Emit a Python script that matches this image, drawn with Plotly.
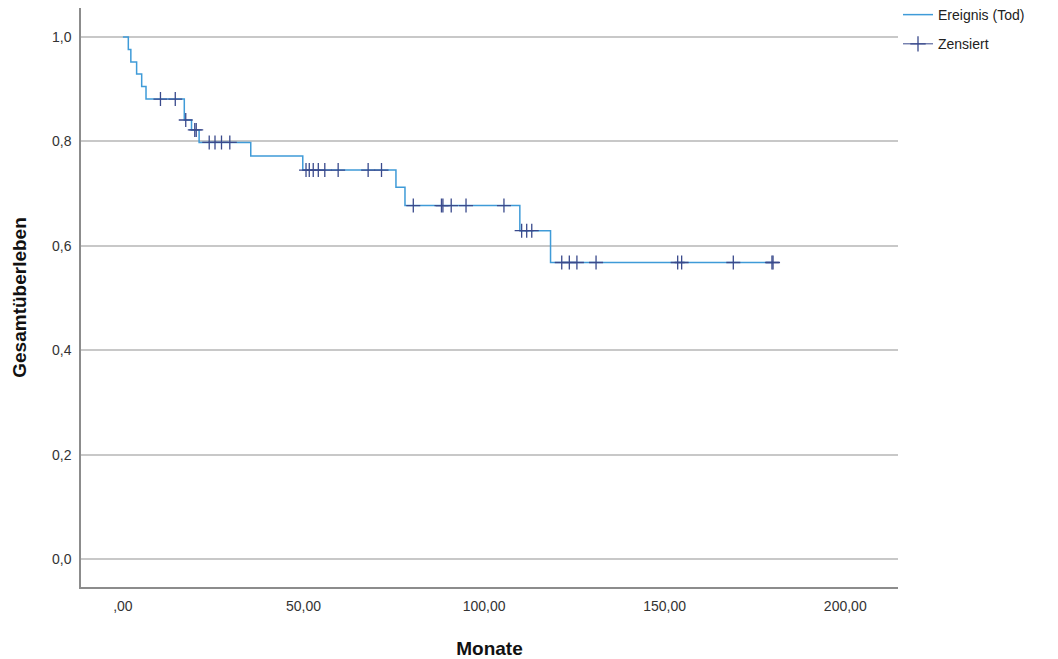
import plotly.graph_objects as go

# Kaplan-Meier steps (months, survival after the event)
event_times = [1.5, 2.2, 3.8, 5.2, 6.4, 17.0, 19.0, 21.1, 35.4, 49.8, 75.6, 78.1, 109.9, 118.4]
event_surv = [0.976, 0.952, 0.929, 0.905, 0.881, 0.841, 0.822, 0.798, 0.772, 0.745, 0.712, 0.677, 0.629, 0.568]

# Censored observations (months, survival level at that time)
censor_times = [10.4, 14.5, 17.4, 19.9, 20.3, 23.9, 25.5, 27.3, 29.6,
                50.7, 51.6, 52.7, 54.1, 55.9, 59.6, 67.9, 71.6,
                80.4, 88.2, 88.6, 90.9, 95.0, 105.5,
                110.4, 111.8, 113.2,
                121.5, 123.6, 125.7, 131.0, 153.6, 154.7, 169.0, 179.7, 180.0]
censor_surv = [0.881, 0.881, 0.841, 0.822, 0.822, 0.798, 0.798, 0.798, 0.798,
               0.745, 0.745, 0.745, 0.745, 0.745, 0.745, 0.745, 0.745,
               0.677, 0.677, 0.677, 0.677, 0.677, 0.677,
               0.629, 0.629, 0.629,
               0.568, 0.568, 0.568, 0.568, 0.568, 0.568, 0.568, 0.568, 0.568]

x_tickvals = [0, 50, 100, 150, 200]
x_ticktext = [",00", "50,00", "100,00", "150,00", "200,00"]
y_tickvals = [0.0, 0.2, 0.4, 0.6, 0.8, 1.0]
y_ticktext = ["0,0", "0,2", "0,4", "0,6", "0,8", "1,0"]

LINE_COLOR = "#3f9bd8"
CENSOR_COLOR = "#3a4a8c"
FONT = "Arial, Liberation Sans, sans-serif"

step_x = [0.0] + event_times + [censor_times[-1]]
step_y = [1.0] + event_surv + [event_surv[-1]]

fig = go.Figure()
fig.add_trace(go.Scatter(
    x=step_x, y=step_y, mode="lines", line_shape="hv",
    line=dict(color=LINE_COLOR, width=1.5),
    name="Ereignis (Tod)", legendgroup="a", hoverinfo="skip",
))
fig.add_trace(go.Scatter(
    x=censor_times, y=censor_surv, mode="markers",
    marker=dict(symbol="cross-thin", size=10, color=CENSOR_COLOR,
                line=dict(color=CENSOR_COLOR, width=1.3)),
    name="Zensiert", showlegend=False, legendgroup="b",
))
fig.add_trace(go.Scatter(
    x=[None], y=[None], mode="lines+markers",
    line=dict(color=CENSOR_COLOR, width=1),
    marker=dict(symbol="cross-thin", size=11, color=CENSOR_COLOR,
                line=dict(color=CENSOR_COLOR, width=1.3)),
    name="Zensiert", legendgroup="b",
))

# the page adds an 8px body margin, so the figure is offset by 8px
fig.update_layout(
    width=1050, height=651,
    margin=dict(l=73, r=160, t=0, b=72, autoexpand=False),
    paper_bgcolor="white", plot_bgcolor="white",
    font=dict(family=FONT, size=14, color="#333333"),
    showlegend=True,
    legend=dict(x=1.0, xanchor="left", y=1.0155, yanchor="top",
                font=dict(size=14, color="#222222"),
                traceorder="grouped", tracegroupgap=8,
                bgcolor="rgba(0,0,0,0)", itemwidth=30),
    xaxis=dict(
        range=[-11.6, 214.6], tickvals=x_tickvals, ticktext=x_ticktext,
        showgrid=False, zeroline=False, showline=True, linecolor="#8c8c8c", linewidth=1.5,
        ticks="", ticklabelstandoff=5, tickfont=dict(size=14, color="#333333"),
        automargin=False,
        title=dict(text="<b>Monate</b>", font=dict(size=19, color="#111111"), standoff=29),
    ),
    yaxis=dict(
        range=[-0.0536, 1.0555], tickvals=y_tickvals, ticktext=y_ticktext,
        showgrid=True, gridcolor="#c8c8c8", gridwidth=1.5,
        zeroline=False, showline=True, linecolor="#8c8c8c", linewidth=1.5,
        ticks="", ticklabelstandoff=5, tickfont=dict(size=14, color="#333333"),
        automargin=False,
        title=dict(text="<b>Gesamtüberleben</b>", font=dict(size=19, color="#111111"), standoff=20),
    ),
)

fig.write_html("out.html")
